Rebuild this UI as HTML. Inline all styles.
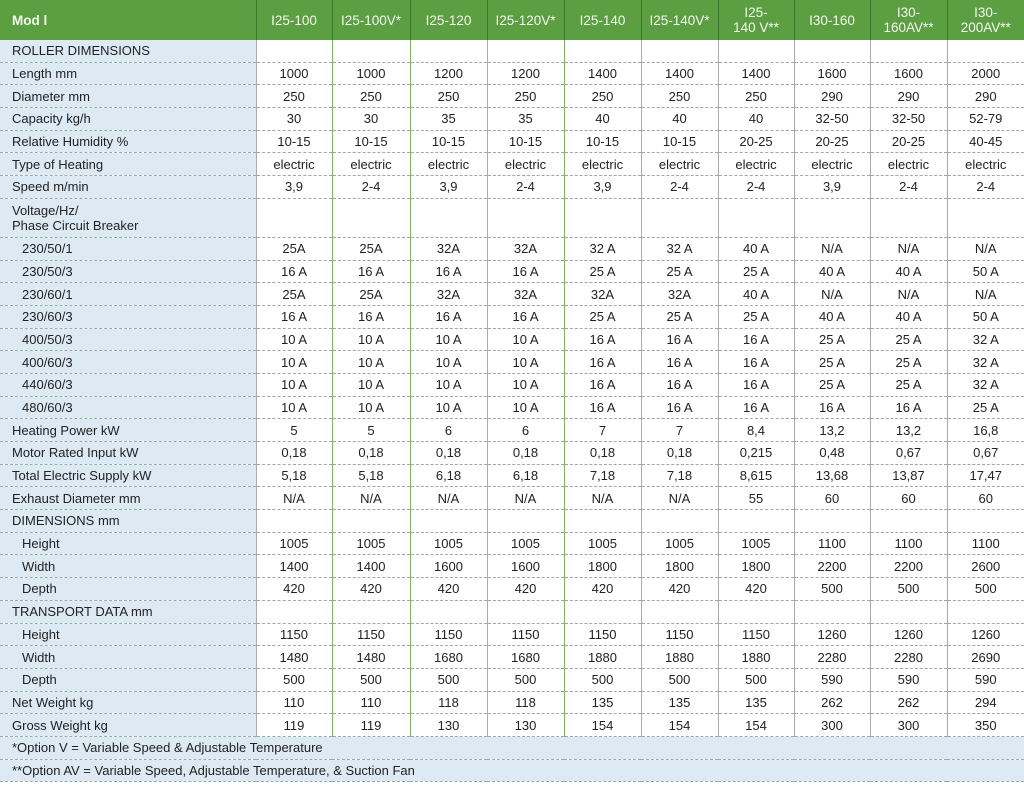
<!DOCTYPE html>
<html><head><meta charset="utf-8"><style>
body{margin:0;width:1024px;height:785px;background:#fff;font-family:"Liberation Sans",Arial,sans-serif;overflow:hidden}
table{border-collapse:collapse;table-layout:fixed;position:absolute;left:0;top:0;width:1024px}
td,th{padding:0;font-size:13px;color:#222;text-align:center;white-space:nowrap;overflow:hidden}
th{background:#5c9f42;color:#f2f8ee;font-weight:normal;font-size:13.5px;height:40px;line-height:15px;border-left:1px solid #3f7a2c}
th.f{text-align:left;padding-left:12px;font-weight:bold;border-left:none}
td{height:21.7px;border-bottom:1px dashed #9aa;border-left:1px solid #aaa}
td:nth-child(3),td:nth-child(4),td:nth-child(6){border-left-color:#7cb662}
td.l{background:#ddeaf4;text-align:left;padding-left:12px;border-left:none}
td.i{padding-left:22px}
tr.v td{height:38px;line-height:15px}
tr.n td{background:#ddeaf4;text-align:left;padding-left:12px;border-left:none;height:21.7px}
</style></head><body>
<table>
<colgroup><col style="width:256px"><col style="width:76px"><col style="width:78px"><col style="width:77px"><col style="width:77px"><col style="width:77px"><col style="width:77px"><col style="width:76px"><col style="width:76px"><col style="width:77px"><col style="width:77px"></colgroup>
<tr><th class="f">Mod l</th><th>I25-100</th><th>I25-100V*</th><th>I25-120</th><th>I25-120V*</th><th>I25-140</th><th>I25-140V*</th><th>I25-<br>140 V**</th><th>I30-160</th><th>I30-<br>160AV**</th><th>I30-<br>200AV**</th></tr>
<tr><td class="l">ROLLER DIMENSIONS</td><td></td><td></td><td></td><td></td><td></td><td></td><td></td><td></td><td></td><td></td></tr>
<tr><td class="l">Length mm</td><td>1000</td><td>1000</td><td>1200</td><td>1200</td><td>1400</td><td>1400</td><td>1400</td><td>1600</td><td>1600</td><td>2000</td></tr>
<tr><td class="l">Diameter mm</td><td>250</td><td>250</td><td>250</td><td>250</td><td>250</td><td>250</td><td>250</td><td>290</td><td>290</td><td>290</td></tr>
<tr><td class="l">Capacity kg/h</td><td>30</td><td>30</td><td>35</td><td>35</td><td>40</td><td>40</td><td>40</td><td>32-50</td><td>32-50</td><td>52-79</td></tr>
<tr><td class="l">Relative Humidity %</td><td>10-15</td><td>10-15</td><td>10-15</td><td>10-15</td><td>10-15</td><td>10-15</td><td>20-25</td><td>20-25</td><td>20-25</td><td>40-45</td></tr>
<tr><td class="l">Type of Heating</td><td>electric</td><td>electric</td><td>electric</td><td>electric</td><td>electric</td><td>electric</td><td>electric</td><td>electric</td><td>electric</td><td>electric</td></tr>
<tr><td class="l">Speed m/min</td><td>3,9</td><td>2-4</td><td>3,9</td><td>2-4</td><td>3,9</td><td>2-4</td><td>2-4</td><td>3,9</td><td>2-4</td><td>2-4</td></tr>
<tr class="v"><td class="l">Voltage/Hz/<br>Phase Circuit Breaker</td><td></td><td></td><td></td><td></td><td></td><td></td><td></td><td></td><td></td><td></td></tr>
<tr><td class="l i">230/50/1</td><td>25A</td><td>25A</td><td>32A</td><td>32A</td><td>32 A</td><td>32 A</td><td>40 A</td><td>N/A</td><td>N/A</td><td>N/A</td></tr>
<tr><td class="l i">230/50/3</td><td>16 A</td><td>16 A</td><td>16 A</td><td>16 A</td><td>25 A</td><td>25 A</td><td>25 A</td><td>40 A</td><td>40 A</td><td>50 A</td></tr>
<tr><td class="l i">230/60/1</td><td>25A</td><td>25A</td><td>32A</td><td>32A</td><td>32A</td><td>32A</td><td>40 A</td><td>N/A</td><td>N/A</td><td>N/A</td></tr>
<tr><td class="l i">230/60/3</td><td>16 A</td><td>16 A</td><td>16 A</td><td>16 A</td><td>25 A</td><td>25 A</td><td>25 A</td><td>40 A</td><td>40 A</td><td>50 A</td></tr>
<tr><td class="l i">400/50/3</td><td>10 A</td><td>10 A</td><td>10 A</td><td>10 A</td><td>16 A</td><td>16 A</td><td>16 A</td><td>25 A</td><td>25 A</td><td>32 A</td></tr>
<tr><td class="l i">400/60/3</td><td>10 A</td><td>10 A</td><td>10 A</td><td>10 A</td><td>16 A</td><td>16 A</td><td>16 A</td><td>25 A</td><td>25 A</td><td>32 A</td></tr>
<tr><td class="l i">440/60/3</td><td>10 A</td><td>10 A</td><td>10 A</td><td>10 A</td><td>16 A</td><td>16 A</td><td>16 A</td><td>25 A</td><td>25 A</td><td>32 A</td></tr>
<tr><td class="l i">480/60/3</td><td>10 A</td><td>10 A</td><td>10 A</td><td>10 A</td><td>16 A</td><td>16 A</td><td>16 A</td><td>16 A</td><td>16 A</td><td>25 A</td></tr>
<tr><td class="l">Heating Power kW</td><td>5</td><td>5</td><td>6</td><td>6</td><td>7</td><td>7</td><td>8,4</td><td>13,2</td><td>13,2</td><td>16,8</td></tr>
<tr><td class="l">Motor Rated Input kW</td><td>0,18</td><td>0,18</td><td>0,18</td><td>0,18</td><td>0,18</td><td>0,18</td><td>0,215</td><td>0,48</td><td>0,67</td><td>0,67</td></tr>
<tr><td class="l">Total Electric Supply kW</td><td>5,18</td><td>5,18</td><td>6,18</td><td>6,18</td><td>7,18</td><td>7,18</td><td>8,615</td><td>13,68</td><td>13,87</td><td>17,47</td></tr>
<tr><td class="l">Exhaust Diameter mm</td><td>N/A</td><td>N/A</td><td>N/A</td><td>N/A</td><td>N/A</td><td>N/A</td><td>55</td><td>60</td><td>60</td><td>60</td></tr>
<tr><td class="l">DIMENSIONS mm</td><td></td><td></td><td></td><td></td><td></td><td></td><td></td><td></td><td></td><td></td></tr>
<tr><td class="l i">Height</td><td>1005</td><td>1005</td><td>1005</td><td>1005</td><td>1005</td><td>1005</td><td>1005</td><td>1100</td><td>1100</td><td>1100</td></tr>
<tr><td class="l i">Width</td><td>1400</td><td>1400</td><td>1600</td><td>1600</td><td>1800</td><td>1800</td><td>1800</td><td>2200</td><td>2200</td><td>2600</td></tr>
<tr><td class="l i">Depth</td><td>420</td><td>420</td><td>420</td><td>420</td><td>420</td><td>420</td><td>420</td><td>500</td><td>500</td><td>500</td></tr>
<tr><td class="l">TRANSPORT DATA mm</td><td></td><td></td><td></td><td></td><td></td><td></td><td></td><td></td><td></td><td></td></tr>
<tr><td class="l i">Height</td><td>1150</td><td>1150</td><td>1150</td><td>1150</td><td>1150</td><td>1150</td><td>1150</td><td>1260</td><td>1260</td><td>1260</td></tr>
<tr><td class="l i">Width</td><td>1480</td><td>1480</td><td>1680</td><td>1680</td><td>1880</td><td>1880</td><td>1880</td><td>2280</td><td>2280</td><td>2690</td></tr>
<tr><td class="l i">Depth</td><td>500</td><td>500</td><td>500</td><td>500</td><td>500</td><td>500</td><td>500</td><td>590</td><td>590</td><td>590</td></tr>
<tr><td class="l">Net Weight kg</td><td>110</td><td>110</td><td>118</td><td>118</td><td>135</td><td>135</td><td>135</td><td>262</td><td>262</td><td>294</td></tr>
<tr><td class="l">Gross Weight kg</td><td>119</td><td>119</td><td>130</td><td>130</td><td>154</td><td>154</td><td>154</td><td>300</td><td>300</td><td>350</td></tr>
<tr class="n"><td colspan="11">*Option V = Variable Speed &amp; Adjustable Temperature</td></tr>
<tr class="n"><td colspan="11">**Option AV = Variable Speed, Adjustable Temperature, &amp; Suction Fan</td></tr>
</table>
</body></html>
